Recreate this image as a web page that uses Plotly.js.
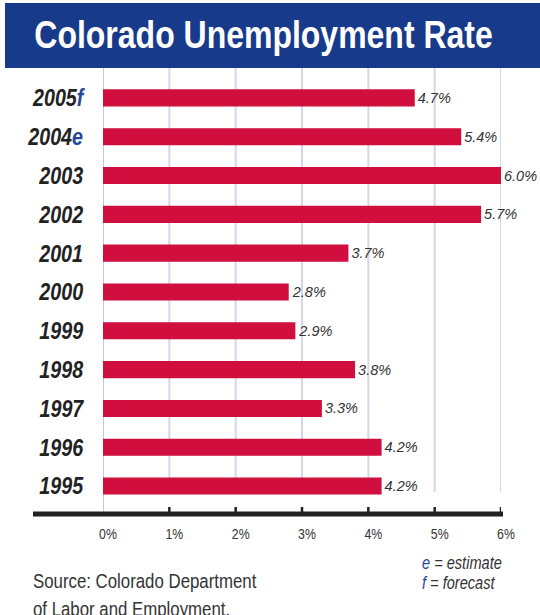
<!DOCTYPE html>
<html>
<head>
<meta charset="utf-8">
<script src="https://cdn.plot.ly/plotly-3.0.1.min.js"></script>
<style>
  html, body { margin: 0; padding: 0; background: #ffffff; }
  #chart { width: 540px; height: 615px; }
</style>
</head>
<body>
<div id="chart"></div>
<script>
// ---- data ----
const years    = ['1995', '1996', '1997', '1998', '1999', '2000', '2001', '2002', '2003', '2004', '2005'];
const suffixes = ['',     '',     '',     '',     '',     '',     '',     '',     '',     'e',    'f'];
const rates    = [4.2, 4.2, 3.3, 3.8, 2.9, 2.8, 3.7, 5.7, 6.0, 5.4, 4.7];
const tickVals = [0, 1, 2, 3, 4, 5, 6];
const tickText = ['0%', '1%', '2%', '3%', '4%', '5%', '6%'];
const titleText = 'Colorado Unemployment Rate';
const sourceLines = ['Source: Colorado Department', 'of Labor and Employment.'];
const noteLetters = ['e', 'f'];
const noteWords = ['estimate', 'forecast'];

// ---- styling ----
const SANS = '"Liberation Sans", Arial, Helvetica, sans-serif';
const BLUE = '#183a8a';
const LETTER_BLUE = '#27479a';
const BAR = '#d10f3f';
const GRID = '#d5d5ec';
const NARROW_FACTOR = 0.82;   // mimic a narrow (condensed) face

const W = 540, H = 615;
const L = 103, R = 39, T = 68, B = 101;
const plotW = W - L - R, plotH = H - T - B;
const px = x => (x - L) / plotW;         // pixel -> paper x
const py = y => (H - B - y) / plotH;     // pixel -> paper y

const catLabels = years.map((y, i) =>
  suffixes[i] ? y + '<span style="color:' + LETTER_BLUE + '">' + suffixes[i] + '</span>' : y);

const trace = {
  type: 'bar',
  orientation: 'h',
  y: years,
  x: rates,
  width: 0.44,
  marker: { color: BAR, line: { width: 0 } },
  texttemplate: '%{x:.1f}%',
  textposition: 'outside',
  cliponaxis: false,
  textfont: { family: SANS, size: 14.5, style: 'italic', color: '#333333' },
  hoverinfo: 'skip'
};

const shapes = [];
// banner
shapes.push({ type: 'rect', xref: 'paper', yref: 'paper', layer: 'below',
  x0: px(5), x1: px(540), y0: py(68), y1: py(3), fillcolor: BLUE, line: { width: 0 } });
// gridlines
tickVals.forEach(v => {
  shapes.push({ type: 'line', xref: 'x', yref: 'paper', layer: 'below',
    x0: v, x1: v, y0: v === 0 ? 0 : py(492), y1: 1,
    line: { color: v === 0 ? '#c8c8c8' : GRID, width: 2 } });
});
// axis tick marks (upward)
tickVals.filter(v => v > 0).forEach(v => {
  shapes.push({ type: 'line', xref: 'x', yref: 'paper', layer: 'above',
    x0: v, x1: v, y0: 0, y1: py(507),
    line: { color: '#222222', width: 2.5 } });
});
// thick baseline
shapes.push({ type: 'line', xref: 'paper', yref: 'paper', layer: 'above',
  x0: px(33), x1: px(503), y0: 0, y1: 0, line: { color: '#222222', width: 5 } });

const annotations = [];
annotations.push({ xref: 'paper', yref: 'paper', x: px(263), y: py(34), xanchor: 'center', yanchor: 'middle',
  text: titleText, showarrow: false, name: 'title',
  font: { family: SANS, size: 39, weight: 'bold', color: '#ffffff' } });
sourceLines.forEach((t, i) => {
  annotations.push({ xref: 'paper', yref: 'paper', x: px(31), y: py(580 + 28 * i), xanchor: 'left', yanchor: 'middle',
    text: t, showarrow: false, name: 'left',
    font: { family: SANS, size: 20.5, color: '#333333' } });
});
noteLetters.forEach((l, i) => {
  annotations.push({ xref: 'paper', yref: 'paper', x: px(420), y: py(563 + 20 * i), xanchor: 'left', yanchor: 'middle',
    text: '<span style="color:' + LETTER_BLUE + '">' + l + '</span> = ' + noteWords[i], showarrow: false, name: 'left',
    font: { family: SANS, size: 17.8, style: 'italic', color: '#333333' } });
});

const layout = {
  width: W, height: H,
  margin: { l: L, r: R, t: T, b: B, pad: 0 },
  paper_bgcolor: '#ffffff',
  plot_bgcolor: 'rgba(0,0,0,0)',
  showlegend: false,
  xaxis: {
    range: [0, 6],
    tickvals: tickVals, ticktext: tickText,
    ticks: '', showgrid: false, zeroline: false, showline: false,
    tickfont: { family: SANS, size: 15, color: '#333333' },
    ticklabelstandoff: 9,
    ticklabelshift: 5,
    fixedrange: true
  },
  yaxis: {
    type: 'category',
    categoryorder: 'array', categoryarray: years,
    range: [-0.72, 10.77],
    tickvals: years, ticktext: catLabels,
    ticks: '', showgrid: false, zeroline: false, showline: false,
    tickfont: { family: SANS, size: 24, weight: 'bold', style: 'italic', color: '#222222' },
    ticklabelstandoff: 19,
    fixedrange: true
  },
  shapes: shapes,
  annotations: annotations
};

// compress a text element horizontally, keeping one edge fixed
function condense(el, factor, keep) {
  const before = el.getBBox();
  const len = el.getComputedTextLength();
  if (!len) return;
  el.setAttribute('textLength', (len * factor).toFixed(2));
  el.setAttribute('lengthAdjust', 'spacingAndGlyphs');
  const after = el.getBBox();
  let dx = 0;
  if (keep === 'left') dx = before.x - after.x;
  else if (keep === 'right') dx = (before.x + before.width) - (after.x + after.width);
  else if (keep === 'center') dx = (before.x + before.width / 2) - (after.x + after.width / 2);
  if (Math.abs(dx) > 0.01) {
    const x0 = parseFloat(el.getAttribute('x') || '0');
    el.setAttribute('x', (x0 + dx).toFixed(2));
  }
}

Plotly.newPlot('chart', [trace], layout, { staticPlot: true, displayModeBar: false }).then(gd => {
  gd.querySelectorAll('.ytick text').forEach(t => condense(t, NARROW_FACTOR, 'right'));
  gd.querySelectorAll('.xtick text').forEach(t => condense(t, NARROW_FACTOR, 'center'));
  const annTexts = gd.querySelectorAll('.annotation-text');
  annTexts.forEach((t, i) => {
    const keep = i === 0 ? 'center' : 'left';
    condense(t, NARROW_FACTOR, keep);
  });
});
</script>
</body>
</html>
